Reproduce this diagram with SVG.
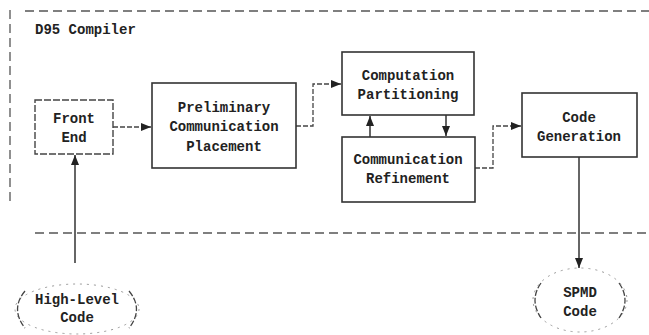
<svg xmlns="http://www.w3.org/2000/svg" width="649" height="335" viewBox="0 0 649 335">
<defs>
<style>
text{font-family:"Liberation Mono","Courier New",monospace;font-weight:bold;font-size:14px;fill:#222;text-anchor:middle}
.box{fill:none;stroke:#333;stroke-width:1.6}
.dbox{fill:none;stroke:#444;stroke-width:1.4;stroke-dasharray:7 2}
.frame{fill:none;stroke:#555;stroke-width:1.3;stroke-dasharray:9 5}
.conn{fill:none;stroke:#333;stroke-width:1.5}
.dconn{fill:none;stroke:#444;stroke-width:1.3;stroke-dasharray:5 2}
.ell{fill:none;stroke:#999;stroke-width:1;stroke-dasharray:2 5}
.par{fill:none;stroke:#444;stroke-width:1.3;stroke-dasharray:6 2}
</style>
<marker id="ah" viewBox="0 0 10 8" refX="10" refY="4" markerWidth="10" markerHeight="8" markerUnits="userSpaceOnUse" orient="auto">
<path d="M0,0 L10,4 L0,8 z" fill="#222"/>
</marker>
</defs>
<g id="frame">
<line class="frame" x1="25" y1="11" x2="649" y2="11"/>
<line class="frame" x1="10" y1="10" x2="10" y2="205"/>
<line class="frame" x1="35" y1="233" x2="649" y2="233"/>
<text x="35" y="34" style="text-anchor:start">D95 Compiler</text>
</g>
<g id="connectors">
<line class="dconn" x1="113" y1="127" x2="151" y2="127" marker-end="url(#ah)"/>
<polyline class="dconn" points="296,126 313,126 313,84 341,84" marker-end="url(#ah)"/>
<line class="conn" x1="370" y1="137" x2="370" y2="116" marker-end="url(#ah)"/>
<line class="conn" x1="446" y1="115" x2="446" y2="136" marker-end="url(#ah)"/>
<polyline class="dconn" points="475,168 493,168 493,126 521,126" marker-end="url(#ah)"/>
<line class="conn" x1="579" y1="157" x2="579" y2="268" marker-end="url(#ah)"/>
<line class="conn" x1="75" y1="263" x2="75" y2="155" marker-end="url(#ah)"/>
</g>
<g id="front-end">
<rect class="dbox" x="35" y="100" width="78" height="54"/>
<text x="74" y="123">Front</text>
<text x="74" y="142">End</text>
</g>
<g id="prelim">
<rect class="box" x="152" y="83" width="144" height="85"/>
<text x="224" y="112">Preliminary</text>
<text x="224" y="131">Communication</text>
<text x="224" y="151">Placement</text>
</g>
<g id="comp-part">
<rect class="box" x="342" y="52" width="132" height="63"/>
<text x="408" y="80">Computation</text>
<text x="408" y="99">Partitioning</text>
</g>
<g id="comm-ref">
<rect class="box" x="342" y="137" width="133" height="65"/>
<text x="408" y="164">Communication</text>
<text x="408" y="183">Refinement</text>
</g>
<g id="code-gen">
<rect class="box" x="522" y="93" width="115" height="64"/>
<text x="579" y="122">Code</text>
<text x="579" y="141">Generation</text>
</g>
<g id="high-level">
<ellipse class="ell" cx="77" cy="309" rx="62" ry="25"/>
<path class="par" d="M25,291 Q10,309 25,328"/>
<path class="par" d="M129,291 Q144,309 129,328"/>
<text x="77" y="304">High-Level</text>
<text x="77" y="322">Code</text>
</g>
<g id="spmd">
<ellipse class="ell" cx="580" cy="300" rx="47" ry="32"/>
<path class="par" d="M541,283 Q529,300 541,318"/>
<path class="par" d="M619,283 Q631,300 619,318"/>
<text x="580" y="297">SPMD</text>
<text x="580" y="316">Code</text>
</g>
</svg>
